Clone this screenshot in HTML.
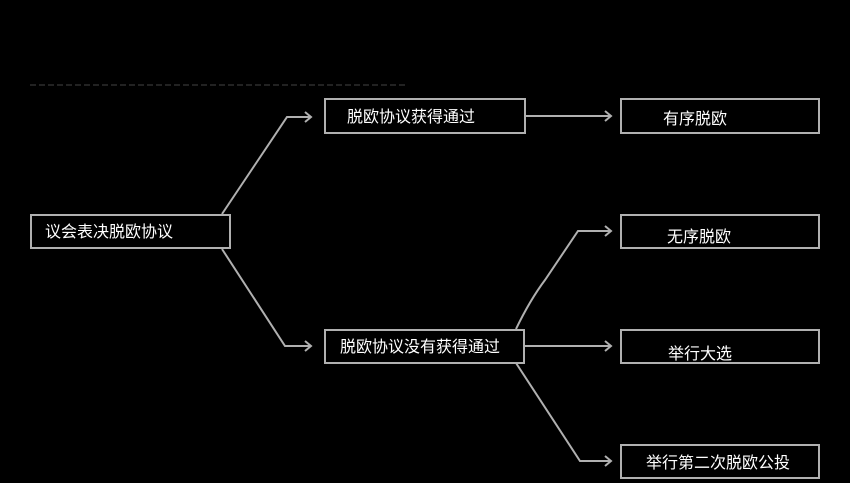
<!DOCTYPE html>
<html><head><meta charset="utf-8"><style>
html,body{margin:0;padding:0;background:#000;}
svg{display:block;}
text{font-family:"Liberation Sans","Noto Sans CJK SC",sans-serif;font-size:16px;fill:#fff;}
</style></head><body>
<svg width="850" height="483" viewBox="0 0 850 483" xmlns="http://www.w3.org/2000/svg">
<line x1="30" y1="85" x2="405" y2="85" stroke="#222" stroke-width="2" stroke-dasharray="6 3"/>
<g fill="none" stroke="#b0b0b0" stroke-width="2">
<rect x="31" y="215" width="199" height="33"/>
<rect x="325" y="99" width="200" height="34"/>
<rect x="621" y="99" width="198" height="34"/>
<rect x="621" y="215" width="198" height="33"/>
<rect x="325" y="330" width="199" height="33"/>
<rect x="621" y="330" width="198" height="33"/>
<rect x="621" y="445" width="198" height="33"/>
<polyline points="222,214 287,117 310,117"/>
<line x1="526" y1="116" x2="610" y2="116"/>
<polyline points="222,249 285,346 310,346"/>
<path d="M516,329 Q530,300 545,280 L578,231 L610,231"/>
<line x1="524" y1="346" x2="610" y2="346"/>
<polyline points="516,363 580,461 610,461"/>
<polyline points="305,112 311,117 305,122"/>
<polyline points="605,111 611,116 605,121"/>
<polyline points="305,341 311,346 305,351"/>
<polyline points="605,226 611,231 605,236"/>
<polyline points="605,341 611,346 605,351"/>
<polyline points="605,456 611,461 605,466"/>
</g>
<text x="45" y="237">议会表决脱欧协议</text>
<text x="347" y="122">脱欧协议获得通过</text>
<text x="663" y="124">有序脱欧</text>
<text x="667" y="242">无序脱欧</text>
<text x="340" y="352">脱欧协议没有获得通过</text>
<text x="668" y="359">举行大选</text>
<text x="646" y="468">举行第二次脱欧公投</text>
</svg>
</body></html>
